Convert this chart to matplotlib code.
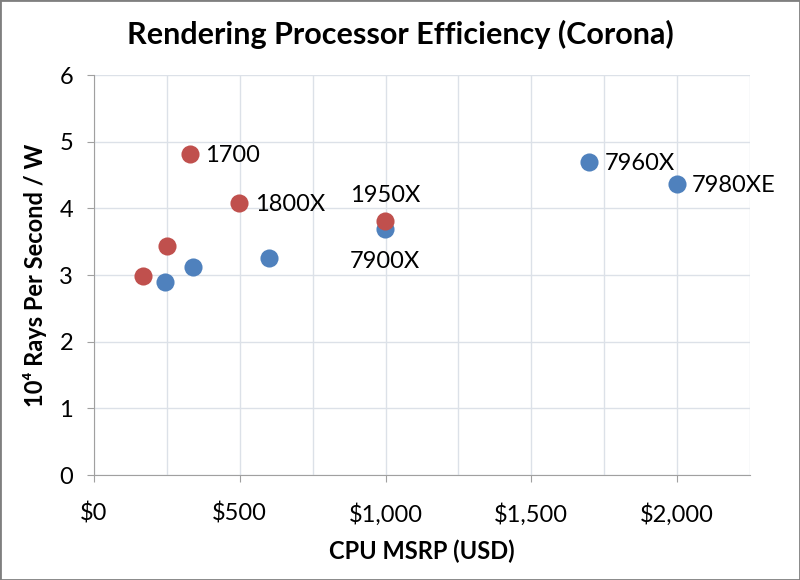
import matplotlib
matplotlib.use('Agg')
import matplotlib.pyplot as plt
from matplotlib.patches import Rectangle
from matplotlib.ticker import FuncFormatter

plt.rcParams['font.family'] = ['Lato', 'DejaVu Sans']

# AMD Ryzen (red)
amd_price = [169, 249, 329, 499, 999]
amd_eff = [2.99, 3.44, 4.82, 4.08, 3.81]
amd_names = ['', '', '1700', '1800X', '1950X']

# Intel (blue)
intel_price = [242, 339, 599, 999, 1699, 1999]
intel_eff = [2.90, 3.12, 3.26, 3.69, 4.70, 4.36]
intel_names = ['', '', '', '7900X', '7960X', '7980XE']

blue = '#4F81BD'
red = '#C0504D'
grid_col = '#DCE1E8'

fig = plt.figure(figsize=(8, 5.8), dpi=100)
ax = fig.add_axes([94/800, 1 - 475/580, (750-94)/800, (475-75)/580])

ax.scatter(intel_price, intel_eff, s=170, color=blue, zorder=3, linewidths=0)
ax.scatter(amd_price, amd_eff, s=170, color=red, zorder=4, linewidths=0)

for x, y, n in zip(amd_price, amd_eff, amd_names):
    if not n:
        continue
    if n == '1950X':
        ax.annotate(n, (x, y), xytext=(0, 11), textcoords='offset points',
                    ha='center', va='bottom', fontsize=17)
    else:
        ax.annotate(n, (x, y), xytext=(11, -1), textcoords='offset points',
                    ha='left', va='center', fontsize=17)
for x, y, n in zip(intel_price, intel_eff, intel_names):
    if not n:
        continue
    if n == '7900X':
        ax.annotate(n, (x, y), xytext=(0, -16), textcoords='offset points',
                    ha='center', va='top', fontsize=17)
    else:
        ax.annotate(n, (x, y), xytext=(11, -1), textcoords='offset points',
                    ha='left', va='center', fontsize=17)

ax.set_xlim(0, 2250)
ax.set_ylim(0, 6)
ax.set_xticks(range(0, 2001, 500))
ax.set_xticks(range(0, 2251, 250), minor=True)
ax.set_yticks(range(0, 7))
ax.xaxis.set_major_formatter(FuncFormatter(lambda v, p: '${:,.0f}'.format(v)))
ax.grid(True, which='both', color=grid_col, linewidth=1, zorder=0)
ax.set_axisbelow(True)
ax.tick_params(axis='x', which='minor', length=0)
ax.tick_params(which='major', direction='out', length=5, color='#A0A0A0',
               labelsize=17)
ax.tick_params(axis='x', pad=15)
ax.tick_params(axis='y', pad=10)

for side in ['top', 'right']:
    ax.spines[side].set_visible(False)
for side in ['left', 'bottom']:
    ax.spines[side].set_color('#A0A0A0')

ax.set_xlabel('CPU MSRP (USD)', fontsize=17, fontweight='bold', labelpad=10)
ax.set_ylabel('10⁴ Rays Per Second / W', fontsize=17, fontweight='bold', labelpad=9)
fig.text(400/800, 1 - 34/580, 'Rendering Processor Efficiency (Corona)',
         ha='center', va='center', fontsize=22, fontweight='bold')

fig.patches.append(Rectangle((0, 0), 1, 1, transform=fig.transFigure, fill=False,
                             edgecolor='#7F7F7F', linewidth=2))

fig.savefig('out.png', dpi=100)
